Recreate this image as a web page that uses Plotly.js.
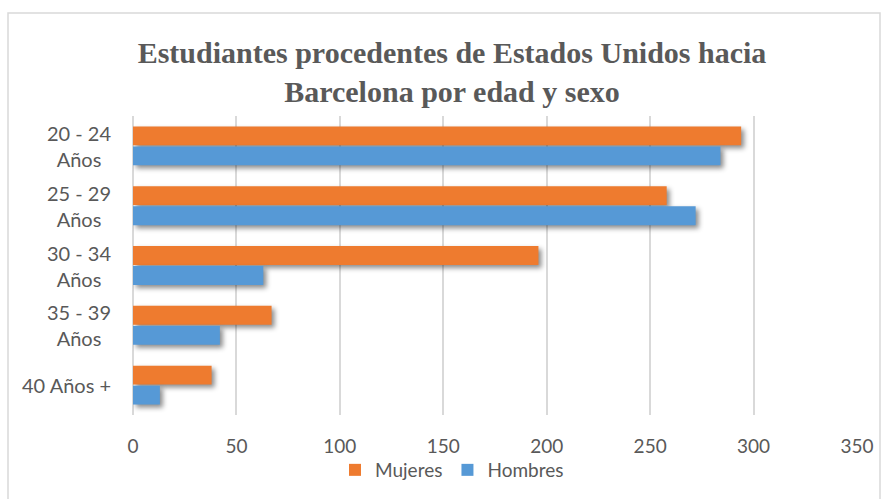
<!DOCTYPE html>
<html>
<head>
<meta charset="utf-8">
<script src="https://cdn.plot.ly/plotly-3.0.1.min.js"></script>
<style>
html,body{margin:0;padding:0;background:#fff;}
#chart{width:881px;height:499px;}
.barlayer .point path{filter:drop-shadow(3px 3px 2.5px rgba(0,0,0,0.45));}
</style>
</head>
<body>
<div id="chart"></div>
<script>
const categories = ['20 - 24 Años', '25 - 29 Años', '30 - 34 Años', '35 - 39 Años', '40 Años +'];
const categoryLabels = ['20 - 24<br>Años', '25 - 29<br>Años', '30 - 34<br>Años', '35 - 39<br>Años', '40 Años +'];
const mujeres = [294, 258, 196, 67, 38];
const hombres = [284, 272, 63, 42, 13];
const xTicks = [0, 50, 100, 150, 200, 250, 300, 350];

const W = 881, H = 499;
const m = {l: 133, r: 24, t: 116, b: 84};
const pw = W - m.l - m.r, ph = H - m.t - m.b;
const px = x => (x - m.l) / pw;
const py = y => (H - m.b - y) / ph;

const font = 'Lato, "Open Sans", sans-serif';
const grey = '#595959';

const traces = [
  {type: 'bar', orientation: 'h', name: 'Mujeres', y: categories, x: mujeres,
   marker: {color: '#EE7B2F'}, hoverinfo: 'x+name'},
  {type: 'bar', orientation: 'h', name: 'Hombres', y: categories, x: hombres,
   marker: {color: '#5699D6'}, hoverinfo: 'x+name'}
];

const annotations = categories.map((c, i) => ({
  xref: 'paper', yref: 'y', x: 0, y: c, xanchor: 'right', xshift: -20,
  text: categoryLabels[i], showarrow: false, align: 'center',
  font: {family: font, size: 20, color: grey}
}));

const layout = {
  width: W, height: H,
  margin: m,
  paper_bgcolor: '#fff', plot_bgcolor: '#fff',
  barmode: 'group', bargap: 0.33, bargroupgap: 0.06,
  title: {
    text: 'Estudiantes procedentes de Estados Unidos hacia<br>Barcelona por edad y sexo',
    font: {family: '"Liberation Serif", "Times New Roman", serif', size: 30, color: grey, weight: 'bold'},
    xref: 'container', x: 452 / W, xanchor: 'center',
    yref: 'container', y: 1 - 63 / H, yanchor: 'top'
  },
  xaxis: {
    range: [0, 350], tickvals: xTicks, ticktext: xTicks.map(String),
    showgrid: true, gridcolor: '#D9D9D9', gridwidth: 1.5,
    zeroline: true, zerolinecolor: '#D9D9D9', zerolinewidth: 1.5,
    showline: false, ticks: '', ticklabelstandoff: 18,
    tickfont: {family: font, size: 19, color: grey}, fixedrange: true
  },
  yaxis: {
    type: 'category', categoryarray: categories, autorange: 'reversed',
    showticklabels: false, showgrid: false, zeroline: false, showline: false, ticks: '',
    fixedrange: true
  },
  legend: {
    orientation: 'h', xref: 'container', x: 452 / W, xanchor: 'center',
    yref: 'container', y: 1 - 470 / H, yanchor: 'middle',
    font: {family: font, size: 19, color: grey},
    traceorder: 'normal', bgcolor: 'rgba(0,0,0,0)'
  },
  annotations: annotations,
  shapes: [{
    type: 'rect', xref: 'paper', yref: 'paper',
    x0: px(8), x1: px(880), y0: py(510), y1: py(13),
    line: {color: '#D9D9D9', width: 1.5}, fillcolor: 'rgba(0,0,0,0)', layer: 'below'
  }],
  showlegend: true
};

Plotly.newPlot('chart', traces, layout, {displayModeBar: false});
</script>
</body>
</html>
